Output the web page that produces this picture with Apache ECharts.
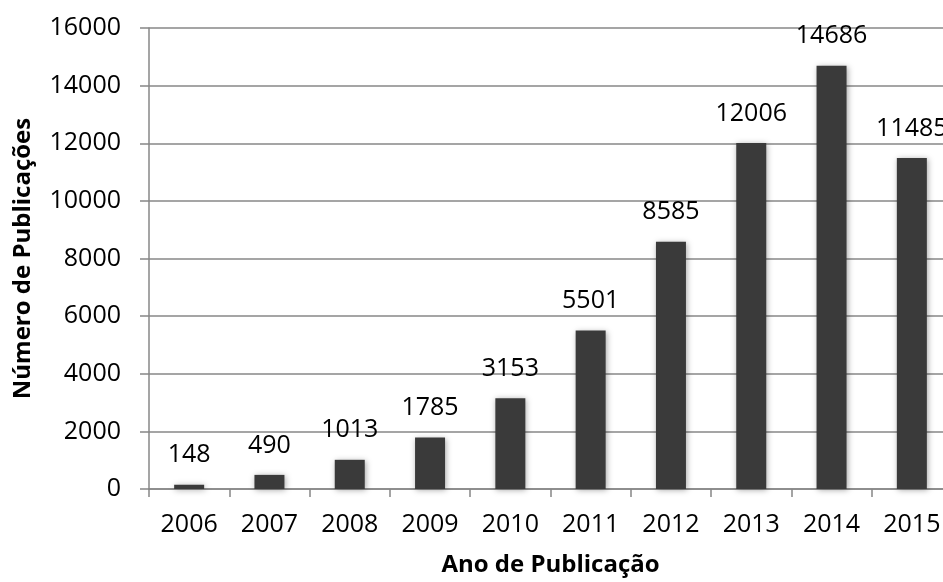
<!DOCTYPE html>
<html>
<head>
<meta charset="utf-8">
<script src="https://cdn.jsdelivr.net/npm/echarts@6/dist/echarts.min.js"></script>
<style>
    html, body { margin: 0; padding: 0; background: #fff; }
    #chart { width: 943px; height: 582px; }
</style>
</head>
<body>
<div id="chart"></div>
<script>
// publicações por ano
var years = ['2006', '2007', '2008', '2009', '2010', '2011', '2012', '2013', '2014', '2015'];
var publications = [148, 490, 1013, 1785, 3153, 5501, 8585, 12006, 14686, 11485];

var FONT = 'Open Sans';
var GRAY = '#878787';

var chart = echarts.init(document.getElementById('chart'));
chart.setOption({
    animation: false,
    textStyle: { fontFamily: FONT },
    grid: { left: 149, top: 28, bottom: 93, width: 803, outerBoundsMode: 'none', containLabel: false },
    xAxis: {
        type: 'category',
        data: years,
        name: 'Ano de Publicação',
        nameLocation: 'middle',
        nameGap: 64,
        nameTextStyle: { fontFamily: FONT, fontWeight: 'bold', fontSize: 24, color: '#000' },
        axisLine: { lineStyle: { color: GRAY, width: 1.5 } },
        axisTick: { show: true, length: 8, lineStyle: { color: GRAY, width: 1.5 } },
        axisLabel: { fontFamily: FONT, fontSize: 25, color: '#000', margin: 23 }
    },
    yAxis: {
        type: 'value',
        min: 0,
        max: 16000,
        interval: 2000,
        name: 'Número de Publicações',
        nameLocation: 'middle',
        nameGap: 114,
        nameTextStyle: { fontFamily: FONT, fontWeight: 'bold', fontSize: 24, color: '#000' },
        axisLine: { show: true, lineStyle: { color: GRAY, width: 1.5 } },
        axisTick: { show: true, length: 9, lineStyle: { color: GRAY, width: 1.5 } },
        splitLine: { lineStyle: { color: GRAY, width: 1.5 } },
        axisLabel: {
            fontFamily: FONT, fontSize: 25, color: '#000', margin: 28,
            formatter: function (v) { return String(v); }
        }
    },
    series: [{
        type: 'bar',
        data: publications,
        barWidth: 30,
        itemStyle: {
            color: '#3a3a3a',
            shadowBlur: 6,
            shadowColor: 'rgba(0,0,0,0.35)',
            shadowOffsetX: 1,
            shadowOffsetY: 1
        },
        label: {
            show: true,
            position: 'top',
            distance: 17,
            fontFamily: FONT,
            fontSize: 25,
            color: '#000'
        }
    }]
});
</script>
</body>
</html>
